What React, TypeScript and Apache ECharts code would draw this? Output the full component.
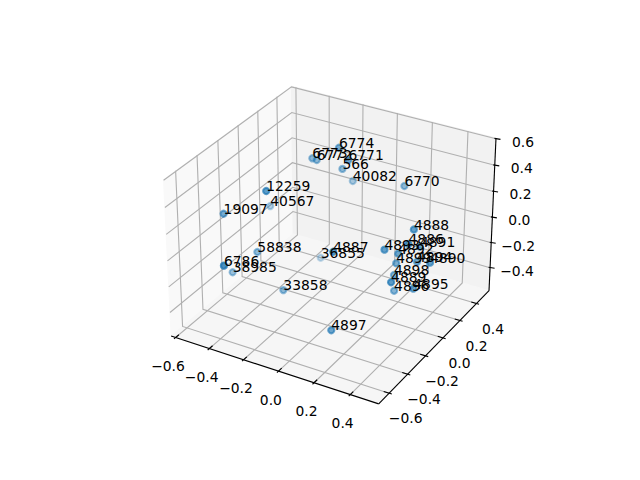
import React, { useEffect, useRef } from "react";
import * as echarts from "echarts";

const labels = ["6774","6773","6772","6771","566","40082","6770","4888","12259","40567","19097","58838","6786","38985","33858","36855","4887","4897","4893","4886","4891","4892","4899","4894","4890","4898","4889","4896","4895"];
const xValues = [-0.106,-0.239,-0.218,-0.050,-0.096,-0.082,0.193,0.359,-0.298,-0.427,-0.502,-0.360,-0.352,-0.458,-0.200,-0.172,0.044,0.117,0.259,0.354,0.392,0.308,0.282,0.370,0.468,0.273,0.341,0.293,0.415];
const yValues = [0.116,0.079,0.087,0.113,0.135,0.222,0.261,0.039,-0.289,-0.031,-0.369,-0.284,-0.623,-0.370,-0.303,0.041,-0.223,-0.379,-0.084,-0.008,0.045,-0.028,0.003,0.061,0.006,-0.001,-0.169,-0.037,-0.068];
const zValues = [0.550,0.445,0.435,0.479,0.383,0.245,0.284,0.150,0.392,0.075,0.193,-0.099,0.017,-0.241,-0.320,-0.278,0.023,-0.450,0.035,0.067,0.028,-0.012,-0.116,-0.107,-0.039,-0.208,-0.126,-0.299,-0.212];

const xTicks = [-0.6,-0.4,-0.2,0,0.2,0.4];
const yTicks = [-0.6,-0.4,-0.2,0,0.2,0.4];
const zTicks = [-0.4,-0.2,0,0.2,0.4,0.6];
const lim = { x: [-0.627, 0.555], y: [-0.71, 0.556], z: [-0.586, 0.605] };

const k = (1.8294640721620434 * 25) / 24 / Math.sqrt(41);
const box = [4 * k, 4 * k, 3 * k];
const el = (30 * Math.PI) / 180, az = (-60 * Math.PI) / 180, dist = 10;
const w = [Math.cos(el) * Math.cos(az), Math.cos(el) * Math.sin(az), Math.sin(el)];
const E = [box[0] / 2 + dist * w[0], box[1] / 2 + dist * w[1], box[2] / 2 + dist * w[2]];
const u = [0.866025403784, 0.5, 0];
const v = [w[1] * u[2] - w[2] * u[1], w[2] * u[0] - w[0] * u[2], w[0] * u[1] - w[1] * u[0]];
const dot = (a: number[], b: number[]) => a[0] * b[0] + a[1] * b[1] + a[2] * b[2];
function proj(x: number, y: number, z: number) {
  const p = [
    ((x - lim.x[0]) / (lim.x[1] - lim.x[0])) * box[0] - E[0],
    ((y - lim.y[0]) / (lim.y[1] - lim.y[0])) * box[1] - E[1],
    ((z - lim.z[0]) / (lim.z[1] - lim.z[0])) * box[2] - E[2],
  ];
  const D = -dot(w, p);
  return [dot(u, p) / D, dot(v, p) / D, D];
}
const L = 143.2, T = 57.6, S = 369.6;
const projected = xValues.map((x, i) => proj(x, yValues[i], zValues[i]));
const depths = projected.map((q) => q[2]);
const dMin = Math.min(...depths), dMax = Math.max(...depths);
const pts = projected.map((q, i) => ({
  xp: q[0],
  yp: q[1],
  a: +(1 - (0.7 * (q[2] - dMin)) / (dMax - dMin)).toFixed(3),
  name: labels[i],
}));

export default function App() {
  const ref = useRef<HTMLDivElement>(null);
  useEffect(() => {
    document.body.style.margin = "0";
    const c = echarts.init(ref.current!, undefined, { renderer: "svg" });
    const font = { fontFamily: "DejaVu Sans", fontSize: 13.89 };
    const frame = (_: any, api: any) => {
      const P = (x: number, y: number, z: number) => { const q = proj(x, y, z); return api.coord([q[0], q[1]]); };
      const [x0, x1] = lim.x, [y0, y1] = lim.y, [z0, z1] = lim.z;
      const ch: any[] = [];
      const poly = (pp: number[][], fill: string) => ch.push({ type: "polygon", shape: { points: pp }, style: { fill, stroke: fill, lineWidth: 1 } });
      const line = (pp: number[][], stroke: string, lw: number) => ch.push({ type: "polyline", shape: { points: pp }, style: { fill: "none", stroke, lineWidth: lw } });
      poly([P(x0, y0, z0), P(x0, y1, z0), P(x0, y1, z1), P(x0, y0, z1)], "#f9f9f9");
      poly([P(x0, y1, z0), P(x1, y1, z0), P(x1, y1, z1), P(x0, y1, z1)], "#f2f2f2");
      poly([P(x0, y0, z0), P(x1, y0, z0), P(x1, y1, z0), P(x0, y1, z0)], "#f6f6f6");
      const g = "#b0b0b0";
      xTicks.forEach((t) => line([P(t, y0, z0), P(t, y1, z0), P(t, y1, z1)], g, 1.11));
      yTicks.forEach((t) => line([P(x1, t, z0), P(x0, t, z0), P(x0, t, z1)], g, 1.11));
      zTicks.forEach((t) => line([P(x0, y0, t), P(x0, y1, t), P(x1, y1, t)], g, 1.11));
      line([P(x0, y0, z0), P(x1, y0, z0)], "#000", 1.11);
      line([P(x1, y0, z0), P(x1, y1, z0)], "#000", 1.11);
      line([P(x1, y1, z0), P(x1, y1, z1)], "#000", 1.11);
      const txt = (s: string, p: number[], dx: number, dy: number, align: string) => ch.push({ type: "text", style: { text: s, x: p[0] + dx, y: p[1] + dy, fill: "#000", align, verticalAlign: "middle", ...font } });
      const fmt = (t: number) => (t < 0 ? "\u2212" : "") + Math.abs(t).toFixed(1);
      const dy = (y1 - y0) * 0.0125, dx = (x1 - x0) * 0.0125;
      xTicks.forEach((t) => { line([P(t, y0 - dy, z0), P(t, y0 + 2 * dy, z0)], "#000", 1.11); txt(fmt(t), P(t, y0, z0), -7.6, 28.5, "center"); });
      yTicks.forEach((t) => { line([P(x1 + dx, t, z0), P(x1 - 2 * dx, t, z0)], "#000", 1.11); txt(fmt(t), P(x1, t, z0), 16.5, 25, "center"); });
      zTicks.forEach((t) => { const q = P(x1, y1, t); line([[q[0] - 1.5, q[1] - 0.4], [q[0] + 4.5, q[1] + 0.6]], "#000", 1.11); txt(fmt(t), q, 27, 3, "center"); });
      return { type: "group", children: ch };
    };
    c.setOption({
      animation: false,
      grid: { left: L, top: T, width: S, height: S },
      xAxis: { type: "value", min: -0.095, max: 0.09, show: false },
      yAxis: { type: "value", min: -0.095, max: 0.09, show: false },
      series: [
        { type: "custom", silent: true, clip: false, data: [[0, 0]], renderItem: frame, z: 1 },
        { type: "scatter", silent: true, clip: false, z: 2, symbolSize: 6.2, data: pts.map((p) => ({ value: [p.xp, p.yp], itemStyle: { color: `rgba(31,119,180,${p.a})`, borderColor: `rgba(31,119,180,${p.a})`, borderWidth: 2.08 } })) },
        { type: "custom", silent: true, clip: false, z: 3, data: pts.map((p) => [p.xp, p.yp]), renderItem: (pa: any, api: any) => { const q = api.coord([api.value(0), api.value(1)]); return { type: "text", style: { text: pts[pa.dataIndex].name, x: q[0], y: q[1] - 4.8, fill: "#000", align: "left", verticalAlign: "middle", ...font } }; } },
      ],
    });
    return () => c.dispose();
  }, []);
  return <div ref={ref} style={{ width: 640, height: 480 }} />;
}
